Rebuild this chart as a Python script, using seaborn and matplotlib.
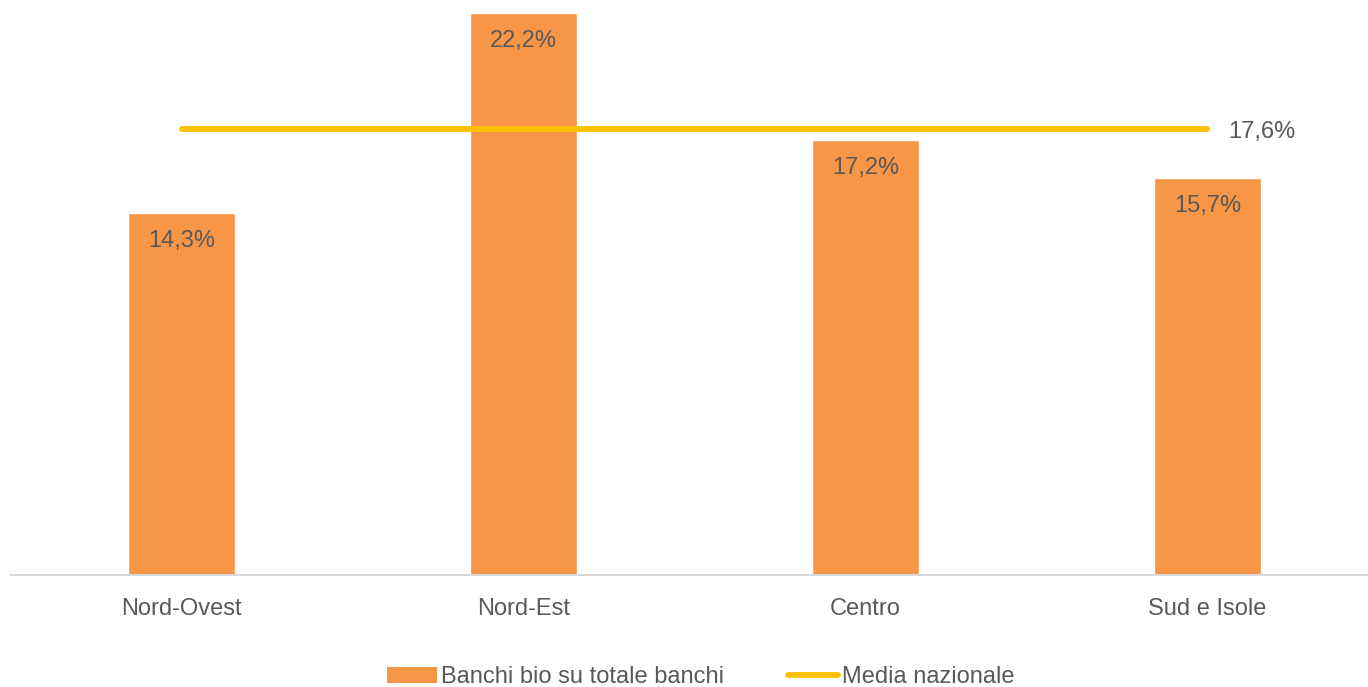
import matplotlib
matplotlib.use("Agg")
import matplotlib.pyplot as plt
import seaborn as sns
import pandas as pd
from matplotlib.patches import Patch
from matplotlib.lines import Line2D

# Share of organic banks over total banks by macro-area
regioni = ["Nord-Ovest", "Nord-Est", "Centro", "Sud e Isole"]
quota_bio = [14.3, 22.2, 17.2, 15.7]
media_nazionale = 17.6

BAR_COLOR = "#F79646"
LINE_COLOR = "#FFC000"
TEXT_COLOR = "#595959"
FS = 17

sns.set_theme(style="white")
plt.rcParams["font.family"] = ["Liberation Sans", "DejaVu Sans"]

df = pd.DataFrame({"regione": regioni, "quota": quota_bio})
df_media = pd.DataFrame({"regione": regioni, "media": [media_nazionale] * len(regioni)})

fig = plt.figure(figsize=(13.68, 6.87), dpi=100)
ax = fig.add_axes([11 / 1368, 1 - 575 / 687, 1 - 11 / 1368, (575 - 13) / 687])

sns.barplot(data=df, x="regione", y="quota", color=BAR_COLOR, width=0.313,
            saturation=1, ax=ax, zorder=2)
sns.lineplot(data=df_media, x="regione", y="media", color=LINE_COLOR, lw=4.2,
             ax=ax, zorder=3, solid_capstyle="round")

# value labels inside the top of each bar
for i, v in enumerate(quota_bio):
    ax.annotate(f"{v:.1f}%".replace(".", ","), (i, v), xytext=(0, -20.5),
                textcoords="offset points", ha="center", va="center",
                fontsize=FS, color=TEXT_COLOR, zorder=4)

# national average label at the right end of the line
ax.annotate(f"{media_nazionale:.1f}%".replace(".", ","),
            (len(regioni) - 1, media_nazionale), xytext=(39, -2),
            textcoords="offset points", ha="center", va="center",
            fontsize=FS, color=TEXT_COLOR)

ax.set_xlim(-0.5, 3.47)
ax.set_ylim(0, 22.2)
ax.set_xlabel("")
ax.set_ylabel("")
ax.set_yticks([])
ax.tick_params(axis="x", length=0, pad=16.5, labelsize=FS, labelcolor=TEXT_COLOR)
for side in ["top", "right", "left"]:
    ax.spines[side].set_visible(False)
ax.spines["bottom"].set_color("#D9D9D9")
ax.spines["bottom"].set_linewidth(1.5)

handles = [
    Patch(facecolor=BAR_COLOR, edgecolor="none"),
    Line2D([0], [0], color=LINE_COLOR, lw=4.2, solid_capstyle="round"),
]
fig.legend(handles, ["Banchi bio su totale banchi", "Media nazionale"],
           loc="center", bbox_to_anchor=(0.5124, 1 - 677 / 687), ncol=2,
           frameon=False, fontsize=FS, labelcolor=TEXT_COLOR,
           handlelength=2.1, handleheight=0.65, handletextpad=0.2,
           columnspacing=2.7)

fig.savefig("out.png", dpi=100)
